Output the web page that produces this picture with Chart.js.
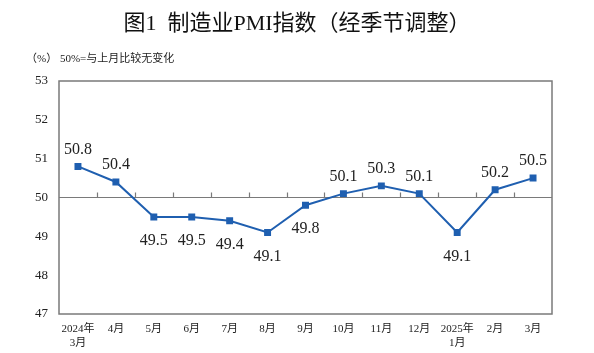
<!DOCTYPE html>
<html>
<head>
<meta charset="utf-8">
<script src="https://cdn.jsdelivr.net/npm/chart.js@4.4.1/dist/chart.umd.min.js"></script>
<style>
  body { margin: 0; background: #fff; }
  #wrap { position: relative; width: 594px; height: 353px; }
  #title { position: absolute; left: 0; width: 594px; top: 4px; text-align: center;
    font-family: "Liberation Serif", "Noto Sans CJK SC", serif; font-size: 22px; color: #111; }
  #sub { position: absolute; left: 26px; top: 49px;
    font-family: "Liberation Serif", "Noto Sans CJK SC", serif; font-size: 11px; color: #222; }
</style>
</head>
<body>
<div id="wrap">
  <div id="title">图1&nbsp; 制造业PMI指数（经季节调整）</div>
  <div id="sub">（%）&nbsp;50%=与上月比较无变化</div>
  <canvas id="pmi" width="594" height="353"></canvas>
</div>
<script>
const months = [['2024年', '3月'], '4月', '5月', '6月', '7月', '8月', '9月', '10月', '11月', '12月', ['2025年', '1月'], '2月', '3月'];
const pmiValues = [50.8, 50.4, 49.5, 49.5, 49.4, 49.1, 49.8, 50.1, 50.3, 50.1, 49.1, 50.2, 50.5];
const labelAbove = [true, true, false, false, false, false, false, true, true, true, false, true, true];
const yTicks = [47, 48, 49, 50, 51, 52, 53];

const serif = '"Liberation Serif", "Noto Sans CJK SC", serif';
const lineBlue = '#1f5fb0';

// box around the plot, the 50 line with its ticks, and value labels
const decor = {
    id: 'decor',
    beforeDatasetsDraw(chart) {
        const { ctx, chartArea: a, scales: { x, y } } = chart;
        ctx.save();
        ctx.strokeStyle = '#7a7a7a';
        ctx.lineWidth = 1.5;
        ctx.strokeRect(a.left, a.top, a.right - a.left, a.bottom - a.top);
        const y50 = y.getPixelForValue(50);
        ctx.lineWidth = 1.2;
        ctx.beginPath();
        ctx.moveTo(a.left, y50);
        ctx.lineTo(a.right, y50);
        const step = (a.right - a.left) / months.length;
        for (let i = 1; i < months.length; i++) {
            const px = Math.round(a.left + step * i) + 0.5;
            ctx.moveTo(px, y50);
            ctx.lineTo(px, y50 - 5);
        }
        ctx.stroke();
        ctx.restore();
    },
    afterDatasetsDraw(chart) {
        const { ctx } = chart;
        const pts = chart.getDatasetMeta(0).data;
        ctx.save();
        ctx.font = '16px ' + serif;
        ctx.fillStyle = '#222';
        ctx.textAlign = 'center';
        ctx.textBaseline = 'middle';
        pts.forEach((p, i) => {
            const dy = labelAbove[i] ? -17 : 24;
            ctx.fillText(pmiValues[i].toFixed(1), p.x, p.y + dy);
        });
        ctx.restore();
    }
};

new Chart(document.getElementById('pmi'), {
    type: 'line',
    data: {
        labels: months,
        datasets: [{
            data: pmiValues,
            borderColor: lineBlue,
            backgroundColor: lineBlue,
            borderWidth: 2,
            pointStyle: 'rect',
            pointRadius: 3.5,
            pointHoverRadius: 3.5,
            tension: 0
        }]
    },
    options: {
        responsive: false,
        animation: false,
        layout: { padding: { top: 81, right: 42, bottom: 0, left: 0 } },
        plugins: { legend: { display: false }, tooltip: { enabled: false } },
        scales: {
            x: {
                offset: true,
                afterFit: (s) => { s.height = 39; },
                grid: { display: false, drawTicks: false },
                border: { display: false },
                ticks: { color: '#222', font: { family: serif, size: 11 }, padding: 9, maxRotation: 0, autoSkip: false }
            },
            y: {
                min: 47,
                max: 53,
                afterBuildTicks: (s) => { s.ticks = yTicks.map(v => ({ value: v })); },
                afterFit: (s) => { s.width = 59; },
                grid: { display: false, drawTicks: false },
                border: { display: false },
                ticks: { color: '#222', font: { family: serif, size: 13 }, padding: 11 }
            }
        }
    },
    plugins: [decor]
});
</script>
</body>
</html>
